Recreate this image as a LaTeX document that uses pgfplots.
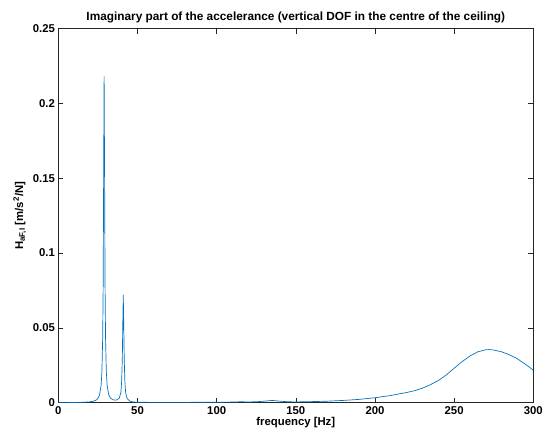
\documentclass[border=0pt]{standalone}
\usepackage{fontspec}
\setmainfont{Liberation Sans}
\usepackage{pgfplots}
\pgfplotsset{compat=1.18}
\definecolor{mlblue}{rgb}{0,0.447,0.741}
\definecolor{axgray}{rgb}{0.15,0.15,0.15}
\begin{document}
\begin{tikzpicture}[x=1bp,y=1bp]
\begin{axis}[
  name=ax,
  scale only axis,
  width=480bp, height=378bp,
  xmin=0, xmax=300, ymin=0, ymax=0.25,
  xtick={0,50,...,300},
  ytick={0,0.05,0.1,0.15,0.2,0.25},
  yticklabels={0,0.05,0.1,0.15,0.2,0.25},
  tick align=inside,
  major tick length=5bp,
  axis line style={axgray, line width=0.5pt},
  every tick/.style={axgray, line width=0.5pt},
  ticklabel style={font=\fontsize{11.5}{13}\selectfont\bfseries, text=black},
  /pgf/number format/assume math mode=true,
  scaled y ticks=false,
  title={\textbf{Imaginary part of the accelerance (vertical DOF in the centre of the ceiling)}},
  title style={font=\fontsize{12}{14}\selectfont, yshift=-4bp},
  xlabel={\textbf{frequency [Hz]}},
  ylabel={\textbf{H\textsubscript{aF,I} [m/s\textsuperscript{2}/N]}},
  label style={font=\fontsize{11.5}{13}\selectfont},
  xlabel style={yshift=4bp},
  ylabel style={yshift=0bp},
]
\addplot[mlblue, line width=0.7pt, line join=round] coordinates {
(0,0) (5,0.00003) (10,0.00012) (15,0.00023) (20,0.00056) (22,0.00092)
(24,0.00182) (25,0.0029) (26,0.0051) (27,0.0116) (27.5,0.0204)
(28,0.0436) (28.3,0.0785) (28.6,0.151) (28.9,0.218) (29.2,0.151)
(29.5,0.0785) (29.8,0.0436) (30.3,0.0204) (30.8,0.0116) (31.8,0.0053)
(33,0.0029) (35,0.0017) (37,0.0018) (38.5,0.0031) (39.5,0.0069)
(40,0.0147) (40.4,0.0295) (40.7,0.0529) (41,0.072) (41.3,0.0529)
(41.6,0.0295) (42,0.0144) (42.5,0.0066) (43.5,0.0027) (45,0.0011)
(47,0.0005) (50,0.00025) (60,0.0002) (80,0.0002) (100,0.0003)
(110,0.0004) (115,0.0006) (120,0.0005) (125,0.0006) (130,0.0010)
(135,0.0015) (140,0.0010) (145,0.0006) (150,0.0005) (160,0.0007)
(170,0.0010) (180,0.0015) (190,0.0022) (200,0.0033) (210,0.0048)
(220,0.0068) (225,0.0080) (230,0.0097) (235,0.0120) (240,0.0148)
(245,0.0185) (250,0.0230) (255,0.0274) (260,0.0312) (265,0.0340)
(270,0.0354) (272,0.0355) (275,0.0352) (280,0.0340) (285,0.0320)
(290,0.0293) (295,0.0257) (300,0.0218)
};
\end{axis}
\path ([xshift=-59bp,yshift=-36bp]ax.south west) rectangle ([xshift=7bp,yshift=29bp]ax.north east);
\end{tikzpicture}
\end{document}
